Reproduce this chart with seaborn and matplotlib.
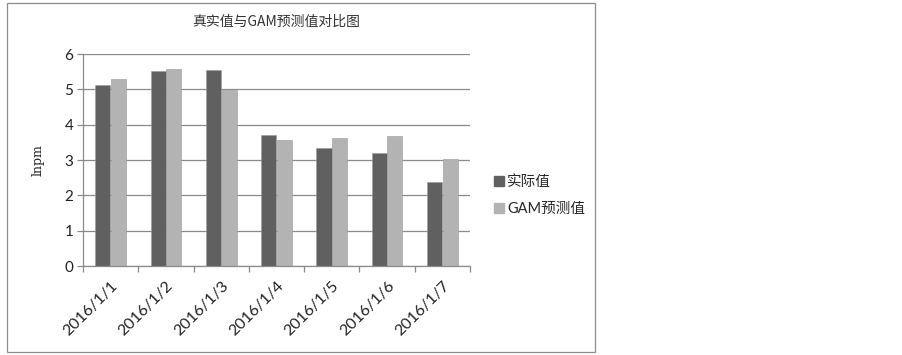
import matplotlib
matplotlib.use("Agg")
import matplotlib.pyplot as plt
import seaborn as sns
import pandas as pd
from matplotlib.patches import Rectangle
from matplotlib.lines import Line2D

categories = ["2016/1/1", "2016/1/2", "2016/1/3", "2016/1/4", "2016/1/5", "2016/1/6", "2016/1/7"]
actual = [5.11, 5.52, 5.54, 3.72, 3.35, 3.20, 2.38]
gam_pred = [5.28, 5.57, 4.99, 3.57, 3.63, 3.69, 3.03]
series_names = ["实际值", "GAM预测值"]
title = "真实值与GAM预测值对比图"
ylabel = "lnpm"
yticks = [0, 1, 2, 3, 4, 5, 6]

sns.set_theme(style="white")
plt.rcParams['font.family'] = ['Lato', 'Noto Sans CJK SC', 'DejaVu Sans']

df = pd.DataFrame({
    "date": categories * 2,
    "value": actual + gam_pred,
    "series": [series_names[0]] * len(categories) + [series_names[1]] * len(categories),
})

fig = plt.figure(figsize=(9.03, 3.55), dpi=100)
fig.patch.set_facecolor("white")
# outer chart border
fig.add_artist(Rectangle((7 / 903, 1 - 352 / 355), 588 / 903, 349 / 355,
                         transform=fig.transFigure, fill=False,
                         edgecolor="#8c8c8c", linewidth=0.9))

ax = fig.add_axes([83 / 903, 1 - 266 / 355, 387 / 903, 212 / 355])
palette = {series_names[0]: "#606060", series_names[1]: "#b3b3b3"}
sns.barplot(data=df, x="date", y="value", hue="series", palette=palette,
            width=0.56, gap=0.02, ax=ax, legend=False, saturation=1,
            edgecolor="#9a9a9a", linewidth=0.4)

ax.set_ylim(0, 6)
ax.set_xlim(-0.5, len(categories) - 0.5)
ax.set_yticks(yticks)
ax.set_yticklabels([str(t) for t in yticks], fontsize=11, color="#222222")
ax.yaxis.grid(True, color="#8a8a8a", linewidth=0.9)
ax.set_axisbelow(True)
ax.set_xlabel("")
ax.set_ylabel(ylabel, fontsize=9, color="#222222", labelpad=14, family=["DejaVu Serif"])
ax.set_title(title, fontsize=10, color="#333333", pad=20,
             family=["Noto Sans CJK SC", "DejaVu Sans"])

ax.set_xticks(range(len(categories)))
ax.set_xticklabels(categories, rotation=45, ha="right", rotation_mode="anchor",
                   fontsize=11.5, color="#222222")
ax.tick_params(axis="x", which="major", length=0, pad=9)
ax.set_xticks([i - 0.5 for i in range(len(categories) + 1)], minor=True)
ax.tick_params(axis="x", which="minor", length=4, color="#8a8a8a", width=0.9, direction="out")
ax.tick_params(axis="y", length=4, color="#8a8a8a", width=0.9, direction="out", pad=3)
ax.tick_params(axis="x", which="minor", bottom=True)
ax.tick_params(axis="y", left=True)

for side in ["top", "right"]:
    ax.spines[side].set_visible(False)
for side in ["left", "bottom"]:
    ax.spines[side].set_color("#8a8a8a")
    ax.spines[side].set_linewidth(0.9)

handles = [Line2D([0], [0], marker="s", linestyle="", markersize=7,
                  markerfacecolor=palette[n], markeredgecolor=palette[n]) for n in series_names]
fig.legend(handles, series_names, loc="upper left", bbox_to_anchor=(487 / 903, 1 - 168 / 355),
           frameon=False, handlelength=0.6, handletextpad=0.3,
           labelspacing=0.85, borderpad=0,
           prop={"family": ["Lato", "Noto Sans CJK SC"], "size": 10.5})

fig.savefig("out.png", dpi=100)
